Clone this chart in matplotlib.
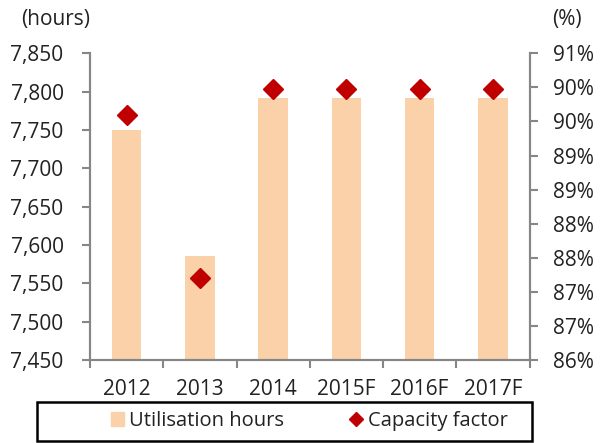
import numpy as np
from matplotlib import pyplot as plt
from matplotlib.patches import Rectangle
from matplotlib.lines import Line2D

years = ['2012', '2013', '2014', '2015F', '2016F', '2017F']
hours = [7750, 7586, 7792, 7792, 7792, 7792]
capacity = [90.0, 87.33, 90.42, 90.42, 90.42, 90.42]

bar_col = '#FAD1A8'
mk_col = '#C00000'
grey = '#868686'

plt.rcParams['font.family'] = ['Open Sans', 'DejaVu Sans']
plt.rcParams['font.size'] = 15

fig = plt.figure(figsize=(6, 4.43), dpi=100)
ax = fig.add_axes([0.15, 0.1874, 0.7325, 0.6923])
ax2 = ax.twinx()

x = np.arange(len(years))
ax.bar(x, hours, width=0.4, color=bar_col, zorder=2)
ax2.plot(x, capacity, linestyle='none', marker='D', ms=10, color=mk_col, zorder=3)

ax.set_xlim(-0.5, 5.5)
ax.set_ylim(7450, 7850)
ax.set_yticks(range(7450, 7851, 50))
ax.set_yticklabels([f'{v:,}' for v in range(7450, 7851, 50)])

ax2.set_ylim(86, 91)
rt = np.linspace(86, 91, 10)
ax2.set_yticks(rt)
ax2.set_yticklabels([f'{v:.0f}%' for v in rt])

ax.set_xticks(x)
ax.set_xticklabels(years)
ax.set_xticks(np.arange(-0.5, 6, 1), minor=True)
ax.tick_params(axis='x', which='major', length=0, pad=14, colors='#222222')
ax.tick_params(axis='x', which='minor', length=6, width=1.5, color=grey, direction='out')
ax.tick_params(axis='y', length=6, width=1.5, color=grey, pad=13, labelcolor='#222222')
ax2.tick_params(axis='y', length=6, width=1.5, color=grey, pad=11, labelcolor='#222222')

for a in (ax, ax2):
    a.spines['top'].set_visible(False)
    for s in ('left', 'right', 'bottom'):
        a.spines[s].set_color(grey)
        a.spines[s].set_linewidth(1.5)

fig.text(0.035, 0.955, '(hours)', ha='left', va='center', fontsize=15, color='#222222')
fig.text(0.92, 0.955, '(%)', ha='left', va='center', fontsize=15, color='#222222')

# legend with box drawn separately
handles = [Rectangle((0, 0), 1, 1, color=bar_col),
           Line2D([], [], linestyle='none', marker='D', ms=7, color=mk_col)]
fig.legend(handles, ['Utilisation hours', 'Capacity factor'], ncol=2, frameon=False,
           loc='center', bbox_to_anchor=(0.516, 1 - 421 / 443),
           handlelength=0.65, handleheight=0.65, handletextpad=0.25,
           columnspacing=3.25, fontsize=14.5, labelcolor='#222222')
fig.add_artist(Rectangle((37 / 600, 1 - 440.5 / 443), 495 / 600, 39 / 443,
                         transform=fig.transFigure, fill=False,
                         edgecolor='black', linewidth=1.8))

fig.savefig('out.png', dpi=100)
